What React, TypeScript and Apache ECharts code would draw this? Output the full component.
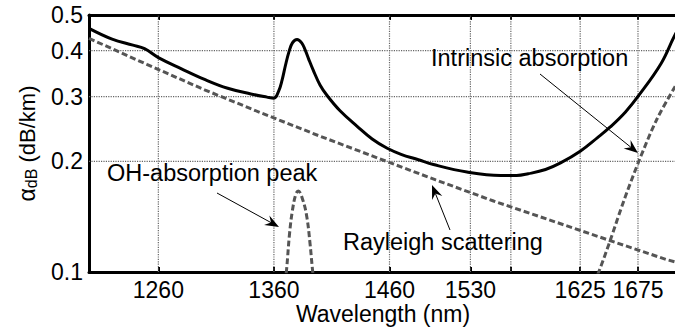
import React, { useEffect, useRef } from "react";
import * as echarts from "echarts";

// ---- data ----
const totalWavelength = [
  1200, 1220, 1238, 1248, 1260, 1280, 1300, 1320, 1340, 1354,
  1360, 1364, 1367, 1370, 1373, 1376, 1380, 1384, 1387, 1390,
  1394, 1400, 1406, 1417, 1432, 1445, 1458, 1470, 1485, 1498,
  1527, 1556, 1570, 1580, 1595, 1608, 1625, 1640, 1651, 1664,
  1676, 1695, 1707, 1720,
];
const totalLoss = [
  0.46, 0.43, 0.414, 0.405, 0.383, 0.357, 0.334, 0.316, 0.305, 0.299,
  0.297, 0.31, 0.332, 0.365, 0.397, 0.42, 0.429, 0.42, 0.402, 0.38,
  0.354, 0.322, 0.302, 0.275, 0.249, 0.23, 0.217, 0.209, 0.202, 0.196,
  0.187, 0.183, 0.183, 0.185, 0.19, 0.198, 0.213, 0.232, 0.248, 0.272,
  0.303, 0.369, 0.441, 0.52,
];

const rayleighWavelength = [1200, 1250, 1300, 1350, 1400, 1450, 1500, 1550, 1600, 1650, 1700, 1720];
const rayleighLoss = [0.432, 0.367, 0.313, 0.27, 0.234, 0.204, 0.178, 0.156, 0.138, 0.122, 0.108, 0.104];

const ohWavelength = [1366, 1369, 1371, 1373.5, 1376, 1379, 1381, 1385, 1388.5, 1391.3, 1393.3, 1396];
const ohLoss = [0.075, 0.09, 0.102, 0.127, 0.147, 0.163, 0.166, 0.157, 0.141, 0.119, 0.102, 0.085];

const intrinsicWavelength = [1628, 1641, 1651, 1663, 1676, 1691, 1707, 1720];
const intrinsicLoss = [0.08, 0.1, 0.122, 0.157, 0.201, 0.259, 0.319, 0.37];

const xTicks = [1260, 1360, 1460, 1530, 1565, 1625, 1675];
const xTickLabels = [1260, 1360, 1460, 1530, 1625, 1675];
const yTicks = [0.1, 0.2, 0.3, 0.4, 0.5];
const yGridValues = [0.2, 0.3, 0.4];

const X_MIN = 1200;
const X_MAX = 1720;
const Y_MIN = 0.1;
const Y_MAX = 0.5;

const pairs = (xs: number[], ys: number[]) => xs.map((x, i) => [x, ys[i]]);

const FONT = "'Liberation Sans', Arial, Helvetica, sans-serif";

function arrow(x1: number, y1: number, x2: number, y2: number) {
  const dx = x2 - x1;
  const dy = y2 - y1;
  const len = Math.sqrt(dx * dx + dy * dy);
  const ux = dx / len;
  const uy = dy / len;
  const nx = -uy;
  const ny = ux;
  const L = 14;
  const W = 5.5;
  const bx = x2 - L * ux;
  const by = y2 - L * uy;
  const notchX = x2 - 0.65 * L * ux;
  const notchY = y2 - 0.65 * L * uy;
  return [
    {
      type: "line",
      shape: { x1, y1, x2: notchX, y2: notchY },
      style: { stroke: "#000", lineWidth: 1 },
      silent: true,
      z: 10,
    },
    {
      type: "polygon",
      shape: {
        points: [
          [x2, y2],
          [bx + W * nx, by + W * ny],
          [notchX, notchY],
          [bx - W * nx, by - W * ny],
        ],
      },
      style: { fill: "#000" },
      silent: true,
      z: 10,
    },
  ];
}

export default function App() {
  const ref = useRef<HTMLDivElement>(null);

  useEffect(() => {
    if (!ref.current) return;
    const chart = echarts.init(ref.current, undefined, { renderer: "svg" });

    const tickStyle = {
      show: true,
      inside: true,
      length: 5,
      lineStyle: { color: "#000", width: 2 },
      customValues: xTicks,
    };

    const gridSegments: number[][][] = [
      ...xTicks.map((x) => [[x, Y_MIN], [x, Y_MAX]]),
      ...yGridValues.map((y) => [[X_MIN, y], [X_MAX, y]]),
    ];
    const gridSeries = gridSegments.map((seg, i) => ({
      name: "grid" + i,
      type: "line",
      data: seg,
      symbol: "none",
      silent: true,
      lineStyle: { color: "#666666", type: [1.2, 1.2], width: 1.2 },
      z: 1,
    }));

    const option: any = {
      animation: false,
      backgroundColor: "#fff",
      grid: {
        left: 89,
        top: 15,
        right: -15,
        bottom: 57,
        containLabel: false,
        outerBoundsMode: "none",
      },
      xAxis: [
        {
          type: "value",
          min: X_MIN,
          max: X_MAX,
          position: "bottom",
          axisLine: { show: true, lineStyle: { color: "#000", width: 3 } },
          axisTick: tickStyle,
          axisLabel: {
            show: true,
            customValues: xTickLabels,
            color: "#000",
            fontFamily: FONT,
            fontSize: 23,
            margin: 6,
            formatter: (v: number) => String(v),
          },
          splitLine: { show: false },
          name: "Wavelength (nm)",
          nameLocation: "middle",
          nameGap: 30,
          nameMoveOverlap: false,
          nameTextStyle: {
            color: "#000",
            fontFamily: FONT,
            fontSize: 23,
            padding: [0, 13, 0, 0],
          },
        },
        {
          type: "value",
          min: X_MIN,
          max: X_MAX,
          position: "top",
          axisLine: { show: true, lineStyle: { color: "#000", width: 3 } },
          axisTick: tickStyle,
          axisLabel: { show: false },
          splitLine: { show: false },
        },
      ],
      yAxis: {
        type: "log",
        logBase: 10,
        min: Y_MIN,
        max: Y_MAX,
        axisLine: { show: true, lineStyle: { color: "#000", width: 3 } },
        axisTick: { show: false, customValues: yTicks },
        axisLabel: {
          customValues: yTicks,
          color: "#000",
          fontFamily: FONT,
          fontSize: 23,
          margin: 6,
          formatter: (v: number) => String(Number(v.toFixed(2))),
        },
        splitLine: { show: false },
        name: "{a|α}{s|dB} (dB/km)",
        nameLocation: "middle",
        nameRotate: 90,
        nameGap: 50,
        nameMoveOverlap: false,
        nameTextStyle: {
          color: "#000",
          fontFamily: FONT,
          fontSize: 22,
          rich: {
            a: { fontFamily: FONT, fontSize: 23, color: "#000" },
            s: { fontFamily: FONT, fontSize: 16, color: "#000", verticalAlign: "bottom", padding: [8, 0, 0, 0] },
          },
        },
      },
      series: [
        ...gridSeries,
        {
          name: "Rayleigh scattering",
          type: "line",
          data: pairs(rayleighWavelength, rayleighLoss),
          symbol: "none",
          lineStyle: { color: "#555", width: 3, type: [6, 3] },
          z: 2,
        },
        {
          name: "OH-absorption peak",
          type: "line",
          data: pairs(ohWavelength, ohLoss),
          symbol: "none",
          smooth: 0.4,
          lineStyle: { color: "#555", width: 3, type: [6, 3] },
          z: 2,
        },
        {
          name: "Intrinsic absorption",
          type: "line",
          data: pairs(intrinsicWavelength, intrinsicLoss),
          symbol: "none",
          smooth: 0.3,
          lineStyle: { color: "#555", width: 3, type: [6, 3] },
          z: 2,
        },
        {
          name: "Total",
          type: "line",
          data: pairs(totalWavelength, totalLoss),
          symbol: "none",
          smooth: 0.4,
          lineStyle: { color: "#000", width: 3 },
          z: 3,
        },
      ],
      graphic: [
        {
          type: "text",
          left: 431,
          top: 46,
          style: { text: "Intrinsic absorption", font: `23.5px ${FONT}`, fill: "#000" },
          z: 10,
        },
        {
          type: "text",
          left: 107,
          top: 161,
          style: { text: "OH-absorption peak", font: `23.5px ${FONT}`, fill: "#000" },
          z: 10,
        },
        {
          type: "text",
          left: 343,
          top: 230,
          style: { text: "Rayleigh scattering", font: `23.5px ${FONT}`, fill: "#000" },
          z: 10,
        },
        ...arrow(540, 74, 638, 153),
        ...arrow(217, 193, 279, 227),
        ...arrow(450, 230, 432, 185),
      ],
    };

    chart.setOption(option);
    return () => chart.dispose();
  }, []);

  return (
    <div
      ref={ref}
      style={{ position: "fixed", left: 0, top: 0, width: 675, height: 329, background: "#fff" }}
    />
  );
}
